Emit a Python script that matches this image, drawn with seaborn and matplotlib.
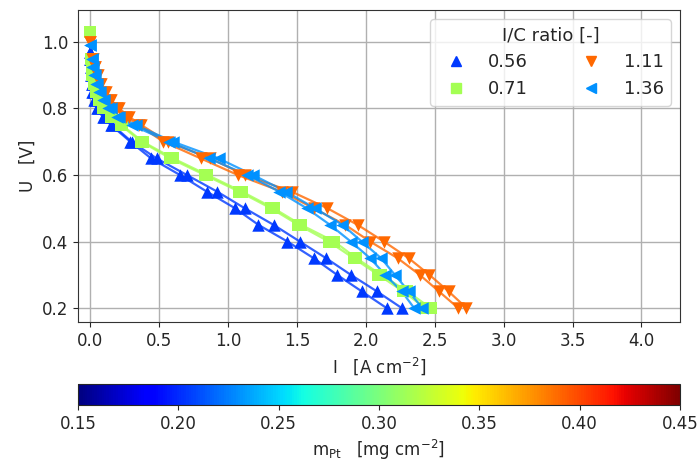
import matplotlib
matplotlib.use("Agg")
import matplotlib.pyplot as plt
import numpy as np
import pandas as pd
import seaborn as sns

# Cell voltage set points [V] (after the open-circuit point)
voltage = [0.95, 0.925, 0.9, 0.875, 0.85, 0.825, 0.8, 0.775, 0.75, 0.7, 0.65,
           0.6, 0.55, 0.5, 0.45, 0.4, 0.35, 0.3, 0.25, 0.2]

# Ionomer-to-carbon ratios, Pt loadings and open-circuit voltages
ic_ratio = ["0.56", "0.71", "1.11", "1.36"]
m_pt = [0.205, 0.315, 0.39, 0.23]
ocv = [0.97, 1.03, 1.00, 0.99]
markers = ["^", "s", "v", "<"]

# Current density [A cm^-2], two sweeps per I/C ratio
i_056_a = [0.0, 0.002, 0.005, 0.01, 0.015, 0.025, 0.045, 0.09, 0.15, 0.29, 0.44,
           0.65, 0.845, 1.05, 1.22, 1.43, 1.62, 1.79, 1.97, 2.15]
i_056_b = [0.0, 0.003, 0.007, 0.012, 0.02, 0.03, 0.055, 0.10, 0.16, 0.30, 0.48,
           0.70, 0.92, 1.12, 1.33, 1.52, 1.71, 1.89, 2.08, 2.26]
i_071_a = [0.004, 0.008, 0.015, 0.025, 0.04, 0.06, 0.09, 0.15, 0.22, 0.37, 0.58,
           0.83, 1.08, 1.31, 1.51, 1.73, 1.91, 2.09, 2.27, 2.43]
i_071_b = [0.005, 0.01, 0.018, 0.03, 0.045, 0.07, 0.10, 0.16, 0.23, 0.38, 0.60,
           0.85, 1.10, 1.33, 1.53, 1.77, 1.93, 2.11, 2.30, 2.47]
i_111_a = [0.015, 0.03, 0.05, 0.07, 0.10, 0.14, 0.19, 0.26, 0.35, 0.53, 0.80,
           1.07, 1.39, 1.62, 1.85, 2.03, 2.23, 2.39, 2.53, 2.67]
i_111_b = [0.02, 0.035, 0.055, 0.08, 0.11, 0.15, 0.21, 0.28, 0.37, 0.56, 0.87,
           1.12, 1.46, 1.72, 1.94, 2.13, 2.31, 2.46, 2.60, 2.73]
i_136_a = [0.008, 0.015, 0.025, 0.04, 0.06, 0.09, 0.13, 0.19, 0.30, 0.57, 0.86,
           1.14, 1.37, 1.57, 1.74, 1.89, 2.03, 2.14, 2.26, 2.35]
i_136_b = [0.01, 0.018, 0.03, 0.045, 0.07, 0.10, 0.15, 0.21, 0.33, 0.60, 0.93,
           1.18, 1.42, 1.63, 1.83, 1.97, 2.11, 2.21, 2.31, 2.41]

sweeps = [(i_056_a, i_056_b), (i_071_a, i_071_b), (i_111_a, i_111_b), (i_136_a, i_136_b)]

cbar_ticks = [0.15, 0.20, 0.25, 0.30, 0.35, 0.40, 0.45]

sns.set_style("ticks")
plt.rcParams["font.family"] = ["DejaVu Sans"]
plt.rcParams["font.size"] = 12

cmap = plt.get_cmap("jet")
norm = matplotlib.colors.Normalize(vmin=0.15, vmax=0.45)

fig = plt.figure(figsize=(7.0, 4.63), dpi=100)
ax = fig.add_axes([78 / 700, 1 - 322 / 463, 602 / 700, 312 / 463])
cax = fig.add_axes([78 / 700, 1 - 405 / 463, 602 / 700, 21 / 463])

rows = []
for lab, mpt, u0, (ia, ib) in zip(ic_ratio, m_pt, ocv, sweeps):
    for sweep, cur in (("a", ia), ("b", ib)):
        rows.append({"ratio": lab, "sweep": sweep, "I": 0.0, "U": u0, "m": mpt})
        for u, i in zip(voltage, cur):
            rows.append({"ratio": lab, "sweep": sweep, "I": i, "U": u, "m": mpt})
df = pd.DataFrame(rows)

handles = []
for lab, mpt, mk in zip(ic_ratio, m_pt, markers):
    col = cmap(norm(mpt))
    for sweep in ("a", "b"):
        sub = df[(df["ratio"] == lab) & (df["sweep"] == sweep)]
        sns.lineplot(data=sub, x="I", y="U", ax=ax, color=col, lw=1.6, alpha=0.8,
                     sort=False, estimator=None, legend=False)
        sns.scatterplot(data=sub, x="I", y="U", ax=ax, color=col, marker=mk, s=80,
                        linewidth=0, legend=False, zorder=3)
    handles.append(plt.Line2D([], [], ls="none", marker=mk, color=col,
                              markersize=7, label=lab))

ax.set_xlim(-0.09, 4.28)
ax.set_ylim(0.158, 1.096)
ax.set_xticks(np.arange(0, 4.01, 0.5))
ax.set_yticks([0.2, 0.4, 0.6, 0.8, 1.0])
ax.grid(True, color="#b0b0b0", lw=1.0)
ax.set_xlabel("I   [A cm$^{-2}$]", fontsize=12)
ax.set_ylabel("U   [V]", fontsize=12)
for sp in ax.spines.values():
    sp.set_color("#333333")

ax.legend(handles=handles, title="I/C ratio [-]", ncol=2, loc="upper right",
          fontsize=13, title_fontsize=13, columnspacing=2.5)

sm = matplotlib.cm.ScalarMappable(norm=norm, cmap=cmap)
cb = fig.colorbar(sm, cax=cax, orientation="horizontal", ticks=cbar_ticks)
cb.ax.set_xticklabels([f"{t:.2f}" for t in cbar_ticks])
cb.set_label("m$_{\\mathrm{Pt}}$   [mg cm$^{-2}$]", fontsize=12)

fig.savefig("out.png", dpi=100)
